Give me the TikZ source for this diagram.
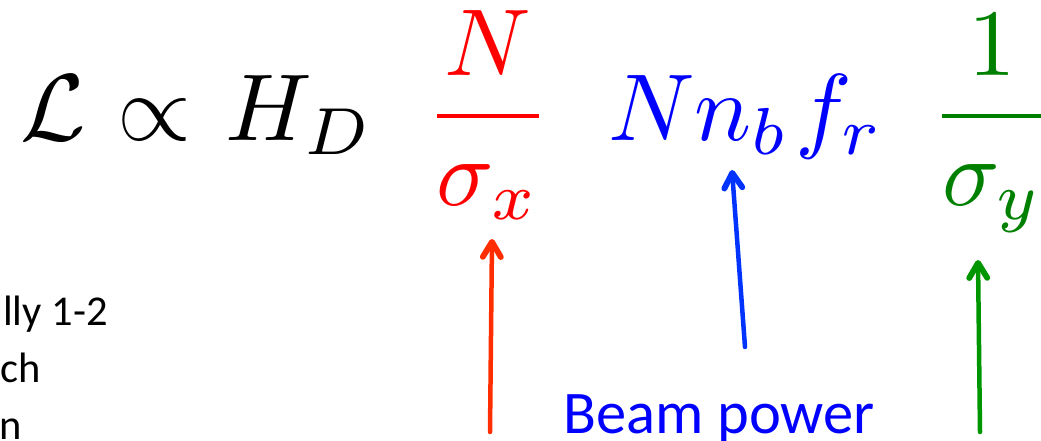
\RequirePackage{fix-cm}
\documentclass[tikz,border=0pt]{standalone}
\usepackage{amsmath}
\usepackage{fontspec}
\usepackage{tikz}
\usetikzlibrary{arrows, arrows.meta}
\newfontfamily\slidefont{Carlito}
% math set like a 10pt formula blown up
\DeclareFontShape{OML}{cmm}{m}{it}{<-60> cmmi10 <60-80> cmmi7 <80-> cmmi10}{\skewchar\font'177}
\DeclareFontShape{OMS}{cmsy}{m}{n}{<-60> cmsy10 <60-80> cmsy7 <80-> cmsy10}{\skewchar\font'60}
\DeclareFontShape{OT1}{cmr}{m}{n}{<-60> cmr10 <60-80> cmr7 <80-> cmr10}{}
\DeclareFontShape{OMX}{cmex}{m}{n}{<-> cmex10}{}
\setlength{\scriptspace}{4.75pt}
\setlength{\nulldelimiterspace}{11.4pt}
\definecolor{sxred}{RGB}{255,0,0}
\definecolor{sxarrow}{RGB}{255,45,0}
\definecolor{pwblue}{RGB}{0,0,255}
\definecolor{pwarrow}{RGB}{0,51,255}
\definecolor{sygreen}{RGB}{0,128,0}
\definecolor{syarrow}{RGB}{0,150,0}
\tikzset{term/.style = {inner sep = 0pt, anchor = base, font = \fontsize{95}{100}\selectfont}}
\tikzset{label/.style = {inner sep = 0pt, anchor = base west, font = \slidefont\fontsize{42.5}{57}\selectfont}}
\tikzset{pointer/.style = {line width = 4.5pt, line cap = round, -{Straight Barb[length = 15pt, width = 18pt, line width = 0pt 1.3, round]}}}

\begin{document}
\begin{tikzpicture}[x = 1pt, y = -1pt]
				\useasboundingbox (0, 0) rectangle (1041, 441);
				\clip (0, 0) rectangle (1041, 441);

				\node[term, anchor = base west] (lum) at (20, 140) {$\mathcal{L} \mkern1mu\propto\mkern1.5mu H_D$};
				\node[term, text = sxred] (sigx) at (488, 140) {$\dfrac{N}{\sigma_x}$};
				\node[term, text = pwblue, anchor = base west] (power) at (608, 140) {$N n_b \mkern1mu f_r$};
				\node[term, text = sygreen] (sigy) at (992, 140) {$\dfrac{1}{\sigma_y}$};

				\node[label, text = pwblue, font = \slidefont\fontsize{60.5}{64}\selectfont] (beam) at (563, 433) {Beam power};
				\node[label] (line1) at (3, 325) {lly 1-2};
				\node[label] (line2) at (0, 382) {ch};
				\node[label] (line3) at (-1, 439) {n};

				\coordinate (xfoot) at (490, 432);
				\coordinate (xtip) at (492, 239);
				\coordinate (pfoot) at (745, 347);
				\coordinate (ptip) at (732, 170);
				\coordinate (yfoot) at (980, 432);
				\coordinate (ytip) at (978, 260);

				\draw[pointer, sxarrow] (xfoot) to (xtip);
				\draw[pointer, pwarrow] (pfoot) to (ptip);
				\draw[pointer, syarrow] (yfoot) to (ytip);
			\end{tikzpicture}
\end{document}
